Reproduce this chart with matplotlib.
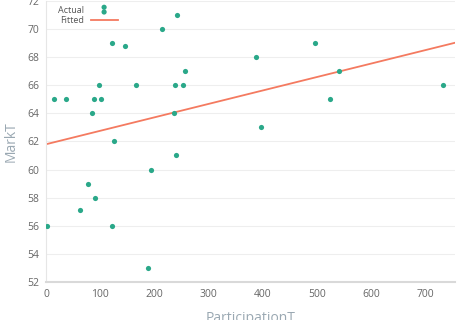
import matplotlib
matplotlib.use("Agg")
import matplotlib.pyplot as plt
import numpy as np
from matplotlib.legend_handler import HandlerPathCollection

plt.rcParams['font.family'] = ['Open Sans', 'DejaVu Sans']

participation = [2, 15, 37, 89, 101, 85, 97, 121, 145, 166, 126, 214, 242, 387,
                 257, 239, 252, 236, 396, 240, 496, 540, 525, 733, 78, 91, 63,
                 122, 194, 188]
mark = [56, 65, 65, 65, 65, 64, 66, 69, 68.8, 66, 62, 70, 71, 68,
        67, 66, 66, 64, 63, 61, 69, 67, 65, 66, 59, 58, 57.1,
        56, 60, 53]
fit_intercept = 61.8
fit_slope = 0.00957

point_color = '#2aa889'
line_color = '#f47a60'

fig = plt.figure(figsize=(4.57, 3.2), dpi=100)
ax = fig.add_axes([0.1007, 0.119, 0.895, 0.878])

ax.scatter(participation, mark, s=14, color=point_color, zorder=3, label='Actual', linewidths=0)
xfit = np.array([0, 755])
ax.plot(xfit, fit_intercept + fit_slope * xfit, color=line_color, lw=1.3, zorder=2, label='Fitted')

ax.set_xlim(0, 755)
ax.set_ylim(52, 72)
ax.set_xticks([0, 100, 200, 300, 400, 500, 600, 700])
ax.set_yticks(range(52, 73, 2))
ax.grid(axis='y', color='#eeeeee', lw=0.8)
ax.set_axisbelow(True)
for s in ['top', 'right']:
    ax.spines[s].set_visible(False)
ax.spines['left'].set_color('#e6e6e6')
ax.spines['left'].set_linewidth(0.8)
ax.spines['bottom'].set_color('#d9d9d9')
ax.spines['bottom'].set_linewidth(1.5)
ax.tick_params(length=0, labelsize=7.5, colors='#666666', pad=5)
ax.set_xlabel('ParticipationT', fontsize=10, color='#9aa8b2', labelpad=8)
ax.set_ylabel('MarkT', fontsize=10, color='#9aa8b2', labelpad=6)


class StackedHandler(HandlerPathCollection):
    def get_xdata(self, legend, xdescent, ydescent, width, height, fontsize):
        xd, xd_marker = super().get_xdata(legend, xdescent, ydescent, width, height, fontsize)
        c = -xdescent + width / 2
        return xd, np.full(len(xd_marker), c)


handles, labels = ax.get_legend_handles_labels()
leg = ax.legend(handles, labels, loc='upper left', bbox_to_anchor=(0.01, 1.01),
                frameon=False, fontsize=6.5, markerfirst=False, handlelength=3.0,
                labelspacing=0.1, handletextpad=0.7, labelcolor='#555555',
                handler_map={type(handles[0]): StackedHandler(numpoints=2, yoffsets=[0.95, 0.2])})

fig.savefig('out.png', dpi=100)
